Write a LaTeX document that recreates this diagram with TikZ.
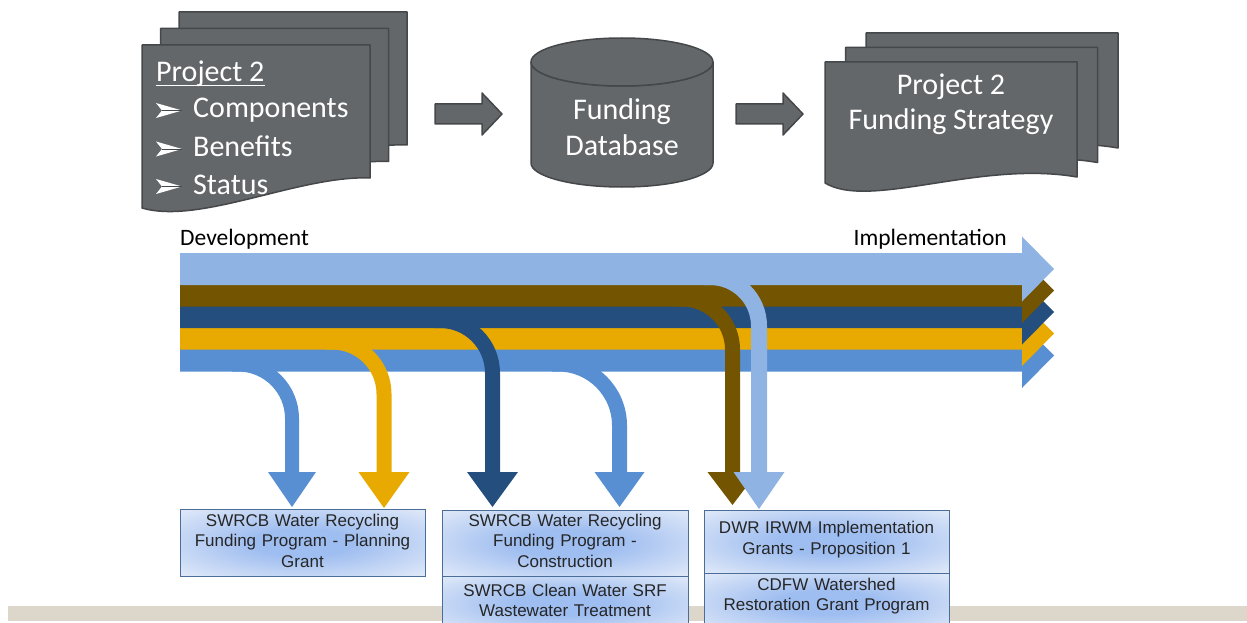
\documentclass[tikz,border=0pt]{standalone}
\usepackage{fontspec}
\setmainfont{Carlito}
\newfontfamily\boxfont{Liberation Sans}

\definecolor{boxinner}{HTML}{9EBDF0}
\definecolor{boxouter}{HTML}{DDE7F8}
\pgfdeclareradialshading{boxglow}{\pgfpoint{0bp}{0bp}}{%
  color(0bp)=(boxinner); color(10bp)=(boxinner); color(34bp)=(boxouter); color(50bp)=(boxouter)}

\begin{document}
\begin{tikzpicture}[x=1pt,y=-1pt]
\definecolor{bandlight}{HTML}{8FB4E3}
\definecolor{bandbrown}{HTML}{735400}
\definecolor{banddark}{HTML}{244E7E}
\definecolor{bandgold}{HTML}{E8AA00}
\definecolor{bandmid}{HTML}{588FD3}
\definecolor{sheetfill}{HTML}{64676A}
\definecolor{sheetline}{HTML}{45484A}
\definecolor{boxline}{HTML}{4A6E98}
\definecolor{floorbar}{HTML}{DDD6CA}
\definecolor{boxtext}{HTML}{262626}

\tikzset{
  sheet/.style={fill=sheetfill, draw=sheetline, line width=1.5pt, line join=round},
  sheettext/.style={text=white, inner sep=0pt, font=\fontsize{30}{36}\selectfont},
  phase/.style={text=black, inner sep=0pt, font=\fontsize{23.5}{28}\selectfont},
  fundbox/.style={draw=boxline, line width=0.9pt, shading=boxglow},
  fundtext/.style={text=boxtext, inner sep=0pt, align=center, text width=240pt,
                   font=\boxfont\fontsize{17}{20.5}\selectfont},
  arrowbullet/.pic={
    \fill[white] (0,-7.5) -- (26,0) -- (0,7.5) -- (6,0) -- cycle;
    \draw[sheetline, line width=0.8pt] (6,0) -- (26,0);
  },
}

\useasboundingbox (0,0) rectangle (1247,623);

% floor strip
\fill[floorbar] (8,606) rectangle (1247,621);

% project sheets (stack of three)
\foreach \dx/\dy in {37/-33, 18.5/-16.5, 0/0}
  \path[sheet, shift={(\dx,\dy)}] (142,45) -- (370,45) -- (370,178)
    .. controls (300,175) and (200,225) .. (142,208) -- cycle;
\node[sheettext, anchor=base west] (title) at (156,82) {Project 2};
\draw[white, line width=1.8pt] ([yshift=-3.5pt]title.base west) -- ([yshift=-3.5pt]title.base east);
\pic at (156,110.5) {arrowbullet};
\node[sheettext, anchor=base west] (comp) at (193,118) {Components};
\pic at (156,149) {arrowbullet};
\node[sheettext, anchor=base west] (bene) at (193,156.5) {Benefits};
\pic at (156,186.5) {arrowbullet};
\node[sheettext, anchor=base west] (stat) at (193,194) {Status};

% block arrows
\path[sheet] (435,104) -- (482,104) -- (482,93) -- (502,114) -- (482,135) -- (482,124) -- (435,124) -- cycle;
\path[sheet] (736,104) -- (783,104) -- (783,93) -- (803,114) -- (783,135) -- (783,124) -- (736,124) -- cycle;

% database cylinder
\path[sheet] (531,62) -- (531,163) arc[start angle=180, end angle=0, x radius=91, y radius=24]
  -- (713,62) arc[start angle=0, end angle=180, x radius=91, y radius=24] -- cycle;
\path[sheet] (622,62) ellipse[x radius=91, y radius=24];
\node[sheettext, anchor=base] (fund) at (622,120) {Funding};
\node[sheettext, anchor=base] (dbase) at (622,155) {Database};

% strategy sheets (stack of three)
\foreach \dx/\dy in {41/-29, 20.5/-14.5, 0/0}
  \path[sheet, shift={(\dx,\dy)}] (825,62) -- (1077,62) -- (1077,177)
    .. controls (980,160) and (870,210) .. (825,183) -- cycle;
\node[sheettext, anchor=base] (strat1) at (951,95) {Project 2};
\node[sheettext, anchor=base] (strat2) at (951,130) {Funding Strategy};

% phase labels
\node[phase, anchor=base west] (dev) at (180,245) {Development};
\node[phase, anchor=base east] (impl) at (1007,245) {Implementation};

% horizontal funding bands, lowest first
\foreach \c/\col in {355.5/bandmid, 333.5/bandgold, 312/banddark, 290.5/bandbrown, 269/bandlight}
  \fill[\col] (180,\c-16) -- (1022,\c-16) -- (1022,\c-32.5) -- (1054,\c)
    -- (1022,\c+32.5) -- (1022,\c+16) -- (180,\c+16) -- cycle;

% branches turning down to the programs
\foreach \col/\cx/\sy/\r/\w/\h/\tip in {
    bandmid/238/364.5/54/14/24/507,
    bandgold/332/342/52/15/25.5/508,
    banddark/440/320.5/52.5/15/25.5/507,
    bandmid/558/364/61.5/15/25/507,
    bandbrown/682/299/50.5/15/25/505,
    bandlight/710/277/49/16/25.5/509}
{
  \draw[\col, line width=\w pt] (\cx-6,\sy) -- (\cx,\sy)
    arc[start angle=270, end angle=360, radius=\r] -- (\cx+\r,473);
  \fill[\col] (\cx+\r-\h,472) -- (\cx+\r+\h,472) -- (\cx+\r,\tip) -- cycle;
}

% funding program boxes
\path[fundbox, shade, draw] (180,509) rectangle (425,576);
\node[fundtext, anchor=base] (plan) at (302.5,526) {SWRCB Water Recycling\\Funding Program - Planning\\Grant};
\path[fundbox, shade, draw] (442,510) rectangle (688,576);
\node[fundtext, anchor=base] (cons) at (565,526) {SWRCB Water Recycling\\Funding Program -\\Construction};
\path[fundbox, shade, draw] (442,576) rectangle (688,632);
\node[fundtext, anchor=base] (srf) at (565,596) {SWRCB Clean Water SRF\\Wastewater Treatment};
\path[fundbox, shade, draw] (704,510) rectangle (949,573);
\node[fundtext, anchor=base] (irwm) at (826.5,533.5) {DWR IRWM Implementation\\Grants - Proposition 1};
\path[fundbox, shade, draw] (704,573) rectangle (949,632);
\node[fundtext, anchor=base] (cdfw) at (826.5,590) {CDFW Watershed\\Restoration Grant Program};
\end{tikzpicture}
\end{document}
